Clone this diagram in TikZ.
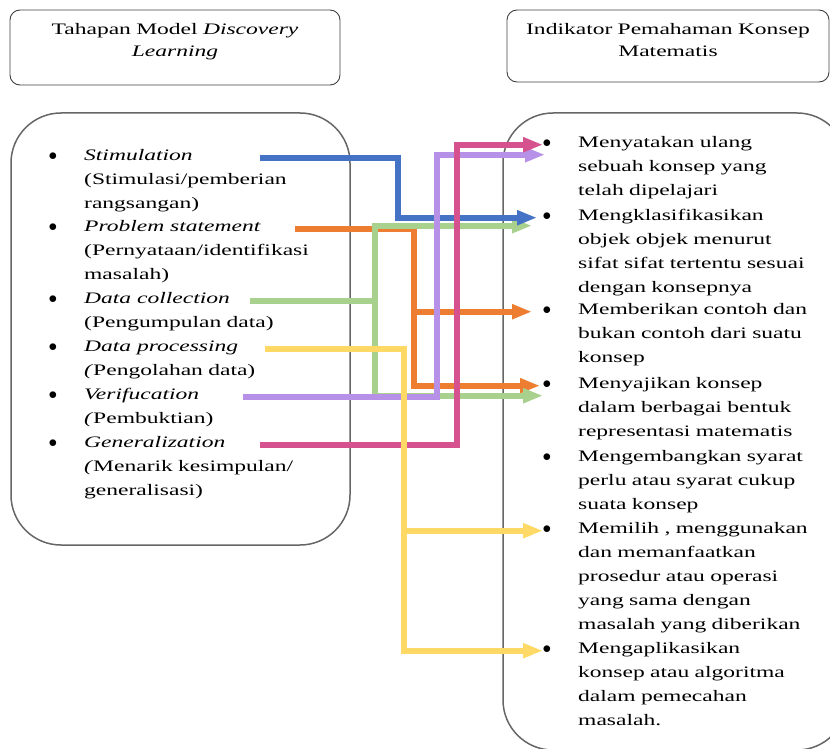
\documentclass[tikz,border=0pt]{standalone}
\usepackage{fontspec}
\setmainfont[FakeStretch=1.47]{Liberation Serif}
\usetikzlibrary{arrows.meta}
\definecolor{fblue}{RGB}{68,114,196}
\definecolor{forange}{RGB}{237,125,49}
\definecolor{fgreen}{RGB}{169,209,142}
\definecolor{fyellow}{RGB}{255,217,102}
\definecolor{fpurple}{RGB}{183,144,232}
\definecolor{fpink}{RGB}{213,82,143}
\newcommand{\itembul}{\llap{$\bullet$\hspace{27pt}}}
\tikzset{
  hd/.style={draw=black!75, line width=0.9pt, rounded corners=10pt},
  hdt/.style={inner sep=0pt, anchor=base, align=center, text width=320pt,
              font=\fontsize{16}{22}\selectfont},
  bx/.style={draw=black!60, line width=1.5pt, rounded corners=50pt},
  ttl/.style={inner sep=0pt, anchor=base west, font=\fontsize{16}{24}\selectfont\itshape},
  dsc/.style={inner sep=0pt, anchor=base west, align=left, text width=250pt,
              font=\fontsize{16}{23.93}\selectfont},
  itm/.style={dsc, font=\fontsize{16}{24.1}\selectfont},
  fl/.style={draw=#1, line width=6pt, -{Triangle[length=20pt,width=14pt]}}
}
\begin{document}
\begin{tikzpicture}[x=1pt, y=-1pt]
  \useasboundingbox (0,0) rectangle (830,749);
  \clip (0,0) rectangle (830,749);
  \node[hd, minimum width=330pt, minimum height=75pt] (hdL) at (175,47.5) {};
  \node[hdt] (hdLt) at ([yshift=-24.6pt]hdL.north) {Tahapan Model \textit{Discovery}\\\textit{Learning}};
  \node[hd, minimum width=322pt, minimum height=72pt] (hdR) at (668,46) {};
  \node[hdt] (hdRt) at ([yshift=-24.6pt]hdR.north) {Indikator Pemahaman Konsep\\Matematis};
  \node[bx, minimum width=339pt, minimum height=432pt] (lbox) at (180.5,329) {};
  \node[bx, minimum width=344pt, minimum height=637pt] (rbox) at (675,431.5) {};

  \node[ttl] (st1) at (84,160.6) {\itembul Stimulation};
  \node[dsc] (sd1) at (84,184.5) {(Stimulasi/pemberian\\rangsangan)};
  \node[ttl] (st2) at (84,231.6) {\itembul Problem statement};
  \node[dsc] (sd2) at (84,255.5) {(Pernyataan/identifikasi\\masalah)};
  \node[ttl] (st3) at (84,303.6) {\itembul Data collection};
  \node[dsc] (sd3) at (84,327.5) {(Pengumpulan data)};
  \node[ttl] (st4) at (84,351.6) {\itembul Data processing};
  \node[dsc] (sd4) at (84,375.5) {\textit{(}Pengolahan data)};
  \node[ttl] (st5) at (84,399.6) {\itembul Verifucation};
  \node[dsc] (sd5) at (84,423.5) {\textit{(}Pembuktian)};
  \node[ttl] (st6) at (84,447.6) {\itembul Generalization};
  \node[dsc] (sd6) at (84,471.5) {\textit{(}Menarik kesimpulan/\\generalisasi)};

  \node[itm] (in1) at (578,147) {\itembul Menyatakan ulang\\sebuah konsep yang\\telah dipelajari};
  \node[itm] (in2) at (578,220) {\itembul Mengklasifikasikan\\objek objek menurut\\sifat sifat tertentu sesuai\\dengan konsepnya};
  \node[itm] (in3) at (578,314) {\itembul Memberikan contoh dan\\bukan contoh dari suatu\\konsep};
  \node[itm] (in4) at (578,388) {\itembul Menyajikan konsep\\dalam berbagai bentuk\\representasi matematis};
  \node[itm] (in5) at (578,461) {\itembul Mengembangkan syarat\\perlu atau syarat cukup\\suata konsep};
  \node[itm] (in6) at (578,533) {\itembul Memilih , menggunakan\\dan memanfaatkan\\prosedur atau operasi\\yang sama dengan\\masalah yang diberikan};
  \node[itm] (in7) at (578,653) {\itembul Mengaplikasikan\\konsep atau algoritma\\dalam pemecahan\\masalah.};

  \draw[fl=forange] ([xshift=211pt]st2.mid west) -- ++(119,0) coordinate (ok) |- ([xshift=-38pt]in4.mid west);
  \draw[fl=forange] (ok |- in3.mid west) -- ([xshift=-46pt]in3.mid west);
  \draw[fl=fgreen] ([xshift=166pt]st3.mid west) -- ++(125,0) coordinate (gk) |- ([xshift=-46pt,yshift=-8pt]in2.mid west);
  \draw[fl=fgreen] (gk) |- ([xshift=-35pt,yshift=-10pt]in4.mid west);
  \draw[fl=fblue] ([xshift=176pt]st1.mid west) -- ++(138,0) |- ([xshift=-41pt]in2.mid west);
  \draw[fl=fpurple] ([xshift=159pt]st5.mid west) -- ++(194,0) |- ([xshift=-33pt,yshift=-10pt]in1.mid west);
  \draw[fl=fpink] ([xshift=176pt]st6.mid west) -- ++(197,0) |- ([xshift=-35pt]in1.mid west);
  \draw[fl=fyellow] ([xshift=181pt]st4.mid west) -- ++(139,0) coordinate (yk) |- ([xshift=-35pt]in7.mid west);
  \draw[fl=fyellow] (yk |- in6.mid west) -- ([xshift=-35pt]in6.mid west);
\end{tikzpicture}
\end{document}
